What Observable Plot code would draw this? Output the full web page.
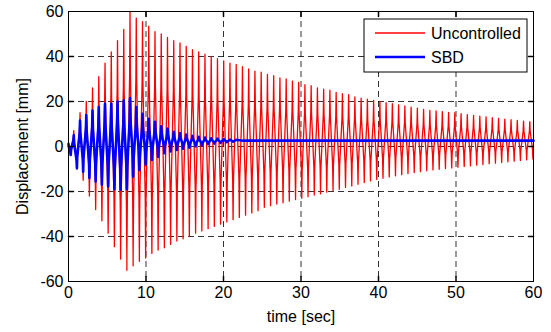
<!DOCTYPE html>
<html><head><meta charset="utf-8">
<script src="https://cdn.jsdelivr.net/npm/d3@7"></script>
<script src="https://cdn.jsdelivr.net/npm/@observablehq/plot@0.6"></script>
<style>body{margin:0;background:#fff;}</style>
</head><body><div id="chart"></div>
<script>
// ---- data ----
const seriesNames = ["Uncontrolled", "SBD"];
const seriesColors = ["#ff0000", "#0000ff"];
const xTicks = [0, 10, 20, 30, 40, 50, 60];
const yTicks = [-60, -40, -20, 0, 20, 40, 60];
const period = 0.806;       // oscillation period [s]
const firstTrough = 0.28;   // time of first trough [s]
const redStart = 0;
const redTroughs = [-4, -10, -15, -22, -28, -33, -38.5, -44.5, -50, -55, -53, -51, -49.5, -47.5, -46, -45, -43.5, -42, -41, -40, -38.5, -37.5, -36.5, -35.5, -34.5, -33.5, -32.5, -31.5, -30.5, -29.5, -28.5, -27, -26.3, -25.6, -25, -24.3, -23.6, -23, -22.3, -21.6, -21, -20.3, -19.6, -19, -18.2, -17.5, -16.8, -16, -15.3, -14.7, -14.1, -13.5, -13, -12.5, -12, -11.6, -11.2, -10.8, -10.4, -10.1, -9.8, -9.5, -9.2, -8.9, -8.6, -8.3, -8, -7.7, -7.4, -7.1, -6.8, -6.5, -6.2, -5.9, -5.6];
const redPeaks = [7, 15, 20, 26, 31, 37, 42, 47, 52, 60, 57, 55.5, 53.5, 51, 50, 48.5, 47, 46, 44.5, 43, 42, 41, 40, 39, 38, 37, 36.5, 35.5, 34.5, 33.5, 33, 32, 31.5, 30.5, 30, 29, 28.5, 27.5, 27, 26, 25.5, 25, 24, 23.5, 23, 22, 21.5, 21, 20.5, 20, 19.5, 19, 18.5, 18, 17.5, 17, 16.5, 16, 15.8, 15.5, 15.2, 15, 14.6, 14.2, 13.8, 13.5, 13.2, 12.8, 12.5, 12.2, 11.9, 11.6, 11.3, 11];
const blueStart = 1.2;
const blueTroughs = [-3.8, -9.7, -11.2, -14, -15.6, -17, -17.8, -19, -19.2, -19, -13.4, -10.5, -8, -6, -4.6, -3, -2.2, -1.5, -1, -0.5, 0, 0.5, 1, 1.3, 1.6, 1.9, 2.1];
const bluePeaks = [5, 11.5, 14, 16, 17.5, 19, 19, 20, 20.5, 21.5, 17.5, 14.5, 12.3, 11, 9, 8, 6.5, 6, 5.3, 4.8, 4.3, 4, 3.7, 3.5, 3.3, 3.1, 3];
const blueTailTimes = [22.5, 60];
const blueTailValues = [2.6, 2.6];

// ---- build tables ----
function build(start, troughs, peaks) {
  const rows = [{t: 0, v: start}];
  for (let k = 0; k < troughs.length; k++) {
    rows.push({t: firstTrough + k * period, v: troughs[k]});
    if (k < peaks.length) rows.push({t: firstTrough + period / 2 + k * period, v: peaks[k]});
  }
  return rows;
}
const red = build(redStart, redTroughs, redPeaks);
const blue = build(blueStart, blueTroughs, bluePeaks);
blueTailTimes.forEach((t, i) => blue.push({t, v: blueTailValues[i]}));

const tickShape = {draw(ctx, l) { ctx.moveTo(0, 0); ctx.lineTo(0, -l); }};
const inner = xTicks.slice(1, -1);
const innerY = yTicks.slice(1, -1);
const font = "'Liberation Sans', Arial, Helvetica, sans-serif";

const M = {left: 68, right: 18, top: 11, bottom: 51};
const W = 551, H = 332;

const svg = Plot.plot({
  width: W, height: H,
  marginLeft: M.left, marginRight: M.right, marginTop: M.top, marginBottom: M.bottom,
  style: {fontFamily: font, fontSize: "16px", color: "#000", background: "#fff", overflow: "visible"},
  x: {domain: [0, 60], label: null},
  y: {domain: [-60, 60], label: null},
  marks: [
    Plot.gridX(inner, {stroke: "#000", strokeOpacity: 0.8, strokeDasharray: "6,4"}),
    Plot.gridY(innerY, {stroke: "#000", strokeOpacity: 0.8, strokeDasharray: "6,4"}),
    Plot.line(red, {x: "t", y: "v", stroke: seriesColors[0], strokeWidth: 1.3, curve: "bump-y"}),
    Plot.line(blue, {x: "t", y: "v", stroke: seriesColors[1], strokeWidth: 2.6, curve: "bump-y"}),
    Plot.frame({stroke: "#000", strokeWidth: 1}),
    Plot.vector(inner, {x: d => d, y: -60, length: 5, rotate: 0, anchor: "start", shape: tickShape, stroke: "#000"}),
    Plot.vector(inner, {x: d => d, y: 60, length: 5, rotate: 180, anchor: "start", shape: tickShape, stroke: "#000"}),
    Plot.vector(innerY, {x: 0, y: d => d, length: 5, rotate: 90, anchor: "start", shape: tickShape, stroke: "#000"}),
    Plot.vector(innerY, {x: 60, y: d => d, length: 5, rotate: -90, anchor: "start", shape: tickShape, stroke: "#000"}),
    Plot.axisX(xTicks, {tickSize: 0, tickPadding: 5, tickFormat: d => String(d), fill: "#000",
      label: "time [sec]", labelAnchor: "center", labelArrow: "none", labelOffset: 40}),
    Plot.axisY(yTicks, {tickSize: 0, tickPadding: 5, tickFormat: d => String(d), fill: "#000",
      label: "Displacement [mm]", labelAnchor: "center", labelArrow: "none", labelOffset: 52})
  ]
});

// ---- legend (drawn inside the axes, top-right) ----
const lg = d3.select(svg).append("g").attr("font-family", font).attr("font-size", 16).attr("text-anchor", "start");
const boxR = W - M.right - 6, boxL = boxR - 163, boxT = M.top + 8, boxB = boxT + 53;
lg.append("rect").attr("x", boxL).attr("y", boxT).attr("width", boxR - boxL).attr("height", boxB - boxT)
  .attr("fill", "#fff").attr("stroke", "#000").attr("stroke-width", 1);
seriesNames.forEach((name, i) => {
  const y = boxT + 14 + i * 24;
  lg.append("line").attr("x1", boxL + 11).attr("x2", boxL + 61).attr("y1", y).attr("y2", y)
    .attr("stroke", seriesColors[i]).attr("stroke-width", i === 0 ? 1.3 : 2.6);
  lg.append("text").attr("x", boxL + 67).attr("y", y).attr("dy", "0.35em").attr("text-anchor", "start")
    .attr("fill", "#000").text(name);
});

document.getElementById("chart").appendChild(svg);
</script>
</body></html>
